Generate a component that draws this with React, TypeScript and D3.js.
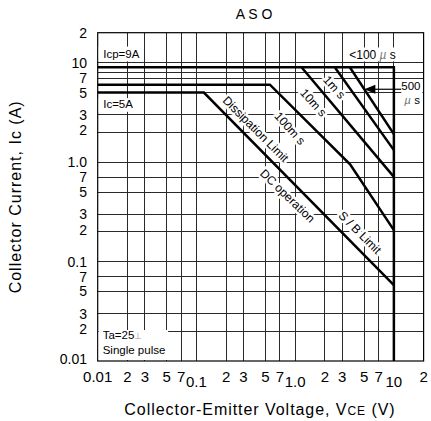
import React from 'react';
import * as d3 from 'd3';

const W = 431;
const H = 421;
const M = { left: 97.7, right: 7.4, top: 32.7, bottom: 60 };
const FONT = '"Liberation Sans", Arial, sans-serif';

// Axis ticks
const tickValues = [0.01, 0.02, 0.03, 0.05, 0.07, 0.1, 0.2, 0.3, 0.5, 0.7, 1, 2, 3, 5, 7, 10, 20];
const xTickLabels = ['0.01', '2', '3', '5', '7', '0.1', '2', '3', '5', '7', '1.0', '2', '3', '5', '7', '10', '2'];
const yTickLabels = ['0.01', '2', '3', '5', '7', '0.1', '2', '3', '5', '7', '1.0', '2', '3', '5', '7', '10', '2'];
const extraYGrid = [8];
const xLoweredTicks = [0.1, 1, 10];

// Safe operating area curves (V, A)
const icpV = [0.01, 10, 10];
const icpI = [9, 9, 0.01];
const pulse500usV = [3.58, 10];
const pulse500usI = [9, 1.91];
const pulse1msV = [2.52, 10];
const pulse1msI = [9, 1.32];
const pulse10msV = [1.16, 10];
const pulse10msI = [9, 0.71];
const pulse100msV = [0.01, 0.555, 3.6, 10];
const pulse100msI = [6, 6, 0.95, 0.207];
const dcV = [0.01, 0.119, 10];
const dcI = [5, 5, 0.058];

// Labels along the curves
const curveLabels = ['Dissipation Limit', 'DC operation', '100m s', '10m s', '1m s', 'S / B Limit'];
const curveLabelV = [0.398, 0.834, 0.883, 1.53, 2.49, 4.52];
const curveLabelI = [2.14, 0.457, 2.18, 3.95, 5.65, 0.195];
const curveLabelAngle = [45, 44, 48, 48, 48, 45];

export default function App() {
  const x = d3.scaleLog().domain([0.01, 20]).range([M.left, W - M.right]);
  const y = d3.scaleLog().domain([0.01, 20]).range([H - M.bottom, M.top]);

  const line = d3
    .line<number>()
    .x((d: any) => x(d[0]))
    .y((d: any) => y(d[1]))
    .curve(d3.curveLinear);

  const path = (vs: number[], is: number[]) => line(vs.map((v, i) => [v, is[i]]) as any) as string;

  const gridX = tickValues.filter((v) => v > 0.01 && v < 20);
  const gridY = tickValues.filter((v) => v > 0.01 && v < 20).concat(extraYGrid);

  // arrow target on 500us line at ~5.4 A (log interpolation)
  const arrowI = 5.4;
  const t = (Math.log(arrowI) - Math.log(pulse500usI[0])) / (Math.log(pulse500usI[1]) - Math.log(pulse500usI[0]));
  const arrowV = Math.exp(Math.log(pulse500usV[0]) + t * (Math.log(pulse500usV[1]) - Math.log(pulse500usV[0])));
  const ax = x(arrowV);
  const ay = y(arrowI);
  const leaderEnd = x(11.9);

  const thick = { fill: 'none', stroke: '#000', strokeWidth: 2.5, strokeLinejoin: 'miter' as const };

  return (
    <svg
      width={W}
      height={H}
      style={{ position: 'absolute', left: 0, top: 0, background: '#fff' }}
      fontFamily={FONT}
    >
      <rect x={0} y={0} width={W} height={H} fill="#fff" />
      {/* grid */}
      <g stroke="#2a2a2a" strokeWidth={1} shapeRendering="crispEdges">
        {gridX.map((v) => (
          <line key={'gx' + v} x1={x(v)} x2={x(v)} y1={y(20)} y2={y(0.01)} />
        ))}
        {gridY.map((v) => (
          <line key={'gy' + v} x1={x(0.01)} x2={x(20)} y1={y(v)} y2={y(v)} />
        ))}
      </g>
      {/* frame */}
      <rect
        x={x(0.01)}
        y={y(20)}
        width={x(20) - x(0.01)}
        height={y(0.01) - y(20)}
        fill="none"
        stroke="#000"
        strokeWidth={1.2}
      />

      {/* curves */}
      <path d={path(icpV, icpI)} {...thick} />
      <path d={path(pulse500usV, pulse500usI)} {...thick} />
      <path d={path(pulse1msV, pulse1msI)} {...thick} />
      <path d={path(pulse10msV, pulse10msI)} {...thick} />
      <path d={path(pulse100msV, pulse100msI)} {...thick} />
      <path d={path(dcV, dcI)} {...thick} />

      {/* boxed annotations */}
      <rect x={x(0.01) + 1} y={y(14.5)} width={x(0.03) - x(0.01) - 2} height={y(10.3) - y(14.5)} fill="#fff" />
      <text x={x(0.01) + 5.5} y={y(11.2)} fontSize={11.5} fill="#000">Icp=9A</text>
      <rect x={x(0.01) + 1} y={y(4.4)} width={x(0.028) - x(0.01)} height={y(3.2) - y(4.4)} fill="#fff" />
      <text x={x(0.01) + 5.5} y={y(3.5)} fontSize={11.5} fill="#000">Ic=5A</text>
      <rect x={x(0.01) + 1} y={y(0.0205)} width={x(0.0505) - x(0.01)} height={y(0.01) - y(0.0205) - 1} fill="#fff" />
      <text x={x(0.01) + 5} y={y(0.0165)} fontSize={11.5} fill="#000">
        Ta=25<tspan fill="#999" fontSize={9}>⊥</tspan>
      </text>
      <text x={x(0.01) + 5} y={y(0.0118)} fontSize={11.5} fill="#000">Single pulse</text>

      {/* <100 us */}
      <rect x={x(10) - 48} y={y(14.2)} width={50} height={y(10.3) - y(14.2)} fill="#fff" />
      <text x={x(10) + 2} y={y(10.9)} fontSize={12} textAnchor="end" fill="#000">
        {'<100 '}
        <tspan fill="#777" fontStyle="italic">µ</tspan>
        {' s'}
      </text>

      {/* 500 us arrow */}
      <line x1={ax + 9} x2={leaderEnd} y1={ay} y2={ay} stroke="#000" strokeWidth={1.2} />
      <path d={`M${ax},${ay} L${ax + 11},${ay - 4.5} L${ax + 11},${ay + 4.5} Z`} fill="#000" />
      <rect x={leaderEnd} y={ay - 10} width={21} height={26} fill="#fff" />
      <text x={leaderEnd} y={ay + 1} fontSize={11.5} fill="#000">500</text>
      <text x={leaderEnd + 3} y={ay + 14.5} fontSize={11.5} fill="#000">
        <tspan fill="#777" fontStyle="italic">µ</tspan>
        {' s'}
      </text>

      {/* rotated curve labels */}
      {curveLabels.map((s, i) => (
        <text
          key={s}
          transform={`translate(${x(curveLabelV[i])},${y(curveLabelI[i])}) rotate(${curveLabelAngle[i]})`}
          textAnchor="middle"
          dominantBaseline="central"
          fontSize={12}
          fill="#000"
          stroke="#fff"
          strokeWidth={5}
          paintOrder="stroke"
          strokeLinejoin="round"
        >
          {s}
        </text>
      ))}

      {/* x tick labels */}
      {tickValues.map((v, i) => (
        <text
          key={'xt' + i}
          x={x(v)}
          y={xLoweredTicks.includes(v) ? 387 : 382}
          textAnchor="middle"
          fontSize={15}
          fill="#000"
        >
          {xTickLabels[i]}
        </text>
      ))}
      {/* y tick labels */}
      {tickValues.map((v, i) => (
        <text
          key={'yt' + i}
          x={87}
          y={y(v) + 5 - (yTickLabels[i] === '2' && v < 20 ? 2 : 0) - (v === 0.01 ? 2 : 0)}
          textAnchor="end"
          fontSize={14}
          fill="#000"
        >
          {yTickLabels[i]}
        </text>
      ))}

      {/* titles */}
      <text x={254} y={19} textAnchor="middle" fontSize={14} fill="#000">A S O</text>
      <text x={260} y={415} textAnchor="middle" fontSize={16} letterSpacing={0.95} fill="#000">
        Collector-Emitter Voltage, V<tspan fontSize={12}>CE</tspan> (V)
      </text>
      <text
        transform={`translate(21,${(M.top + H - M.bottom) / 2}) rotate(-90)`}
        textAnchor="middle"
        fontSize={16}
        letterSpacing={1}
        fill="#000"
      >
        Collector Current, Ic (A)
      </text>
    </svg>
  );
}
